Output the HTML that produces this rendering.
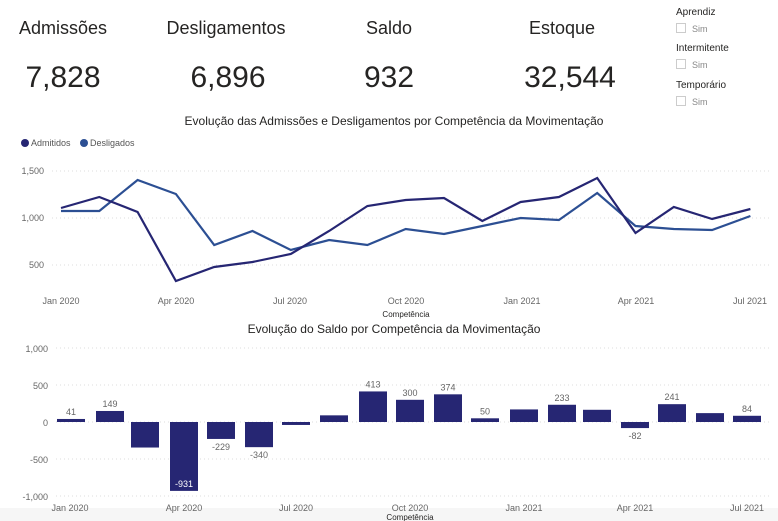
<!DOCTYPE html>
<html><head><meta charset="utf-8"><style>
body{margin:0;width:778px;height:521px;background:#fff;overflow:hidden;font-family:"Liberation Sans",sans-serif;}
svg{position:absolute;left:0;top:0}
</style></head><body>
<svg id="s" width="778" height="521" xmlns="http://www.w3.org/2000/svg" font-family="Liberation Sans, sans-serif">
<rect x="0" y="508" width="778" height="13" fill="#f6f6f6"/>
<g font-size="18" fill="#252423" text-anchor="middle">
<text x="63" y="34">Admissões</text><text x="226" y="34">Desligamentos</text><text x="389" y="34">Saldo</text><text x="562" y="34">Estoque</text>
</g>
<g font-size="30" fill="#252423" text-anchor="middle">
<text x="63" y="87">7,828</text><text x="228" y="87">6,896</text><text x="389" y="87">932</text><text x="570" y="87">32,544</text>
</g>
<g font-size="10" fill="#252423">
<text x="676" y="15">Aprendiz</text><text x="676" y="51">Intermitente</text><text x="676" y="88">Temporário</text>
</g>
<g font-size="9" fill="#888">
<rect x="676.5" y="23.5" width="9" height="9" fill="none" stroke="#ccc"/><text x="692" y="32">Sim</text>
<rect x="676.5" y="59.5" width="9" height="9" fill="none" stroke="#ccc"/><text x="692" y="68">Sim</text>
<rect x="676.5" y="96.5" width="9" height="9" fill="none" stroke="#ccc"/><text x="692" y="105">Sim</text>
</g>
<text x="394" y="125" font-size="12" fill="#252423" text-anchor="middle">Evolução das Admissões e Desligamentos por Competência da Movimentação</text>
<circle cx="25" cy="143" r="4" fill="#262673"/><text x="31" y="146" font-size="9" fill="#555">Admitidos</text>
<circle cx="84" cy="143" r="4" fill="#2c4f93"/><text x="90" y="146" font-size="9" fill="#555">Desligados</text>
<g font-size="9" fill="#666" text-anchor="end"><text x="44" y="174">1,500</text><text x="44" y="221">1,000</text><text x="44" y="268">500</text></g>
<g stroke="#ddd" stroke-dasharray="1,3"><line x1="52" x2="770" y1="171" y2="171"/><line x1="52" x2="770" y1="218" y2="218"/><line x1="52" x2="770" y1="265" y2="265"/></g>
<g font-size="9" fill="#666" text-anchor="middle"><text x="61" y="304">Jan 2020</text><text x="176" y="304">Apr 2020</text><text x="290" y="304">Jul 2020</text><text x="406" y="304">Oct 2020</text><text x="522" y="304">Jan 2021</text><text x="636" y="304">Apr 2021</text><text x="750" y="304">Jul 2021</text></g>
<text x="406" y="317" font-size="8" fill="#252423" text-anchor="middle">Competência</text>
<g id="lines" fill="none" stroke-width="2.2"></g>
<text x="394" y="333" font-size="12" fill="#252423" text-anchor="middle">Evolução do Saldo por Competência da Movimentação</text>
<g font-size="9" fill="#666" text-anchor="end"><text x="48" y="352">1,000</text><text x="48" y="389">500</text><text x="48" y="426">0</text><text x="48" y="463">-500</text><text x="48" y="500">-1,000</text></g>
<g stroke="#ddd" stroke-dasharray="1,3"><line x1="56" x2="770" y1="348" y2="348"/><line x1="56" x2="770" y1="385" y2="385"/><line x1="56" x2="770" y1="422" y2="422"/><line x1="56" x2="770" y1="459" y2="459"/><line x1="56" x2="770" y1="496" y2="496"/></g>
<g id="bars"></g>
<g font-size="9" fill="#666" text-anchor="middle"><text x="70" y="511">Jan 2020</text><text x="184" y="511">Apr 2020</text><text x="296" y="511">Jul 2020</text><text x="410" y="511">Oct 2020</text><text x="524" y="511">Jan 2021</text><text x="635" y="511">Apr 2021</text><text x="747" y="511">Jul 2021</text></g>
<text x="410" y="520" font-size="8" fill="#252423" text-anchor="middle">Competência</text>
</svg>
<script>
var NS="http://www.w3.org/2000/svg";
function el(p,t,a,txt){var e=document.createElementNS(NS,t);for(var k in a)e.setAttribute(k,a[k]);if(txt!=null)e.textContent=txt;p.appendChild(e);return e;}
var A=[208,197,212,281,267,262,254,231,206,200,198,221,202,197,178,233,207,219,209];
var D=[211,211,180,194,245,231,250,240,245,229,234,226,218,220,193,226,229,230,216];
function pts(a){return a.map(function(y,i){return (61+i*38.3).toFixed(1)+","+y}).join(" ");}
var g=document.getElementById("lines");
el(g,"polyline",{points:pts(D),stroke:"#2c4f93"});
el(g,"polyline",{points:pts(A),stroke:"#262673"});
var V=[41,149,-345,-931,-229,-340,-40,90,413,300,374,50,170,233,165,-82,241,120,84];
var X=[57,96,131,170,207,245,282,320,359,396,434,471,510,548,583,621,658,696,733];
var L={0:1,1:1,3:1,4:1,5:1,8:1,9:1,10:1,11:1,13:1,15:1,16:1,18:1};
var b=document.getElementById("bars");
V.forEach(function(v,i){var h=Math.abs(v)*0.074;var y=v>=0?422-h:422;
el(b,"rect",{x:X[i],y:y,width:28,height:Math.max(h,1),fill:"#262673"});
if(L[i]){var cx=X[i]+14;
if(i==3)el(b,"text",{x:cx,y:y+h-4,"font-size":9,fill:"#fff","text-anchor":"middle"},v);
else if(v>=0)el(b,"text",{x:cx,y:y-4,"font-size":9,fill:"#666","text-anchor":"middle"},v);
else el(b,"text",{x:cx,y:y+h+11,"font-size":9,fill:"#666","text-anchor":"middle"},v);}
});
</script>
</body></html>
